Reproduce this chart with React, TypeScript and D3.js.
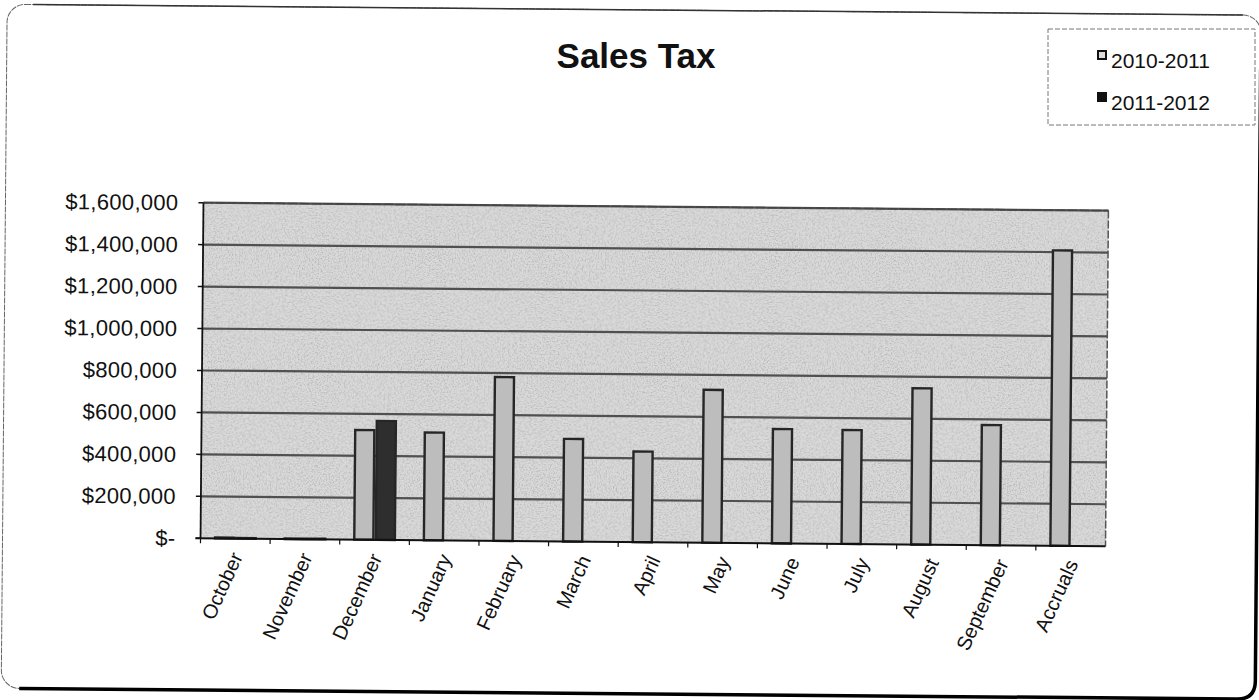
import React from "react";
import * as d3 from "d3";

const categories = ["October","November","December","January","February","March","April","May","June","July","August","September","Accruals"];
const seriesNames = ["2010-2011","2011-2012"];
const values20102011 = [4000, 3000, 523000, 514000, 781000, 489000, 432000, 729000, 545000, 543000, 745000, 573000, 1408000];
const values20112012: (number | null)[] = [3000, 3000, 567000, null, null, null, null, null, null, null, null, null, null];
const yTicks = [0, 200000, 400000, 600000, 800000, 1000000, 1200000, 1400000, 1600000];
const seriesFill = ["#bdbdbd", "#2e2e2e"];

const W = 1259, H = 700;
const plotL = 202, plotR = 1107, plotT = 202.7, plotB = 538.3;
const ROT = 0.5;

const fmt = (v: number) => (v === 0 ? "$-" : "$" + d3.format(",")(v));

export default function App() {
  const x0 = d3.scaleBand<string>().domain(categories).range([plotL, plotR]).padding(0);
  const step = x0.step();
  const groupW = 43;
  const x1 = d3.scaleBand<string>().domain(seriesNames).range([(step - groupW) / 2, (step + groupW) / 2]).padding(0);
  const y = d3.scaleLinear().domain([0, 1600000]).range([plotB, plotT]);
  const data = [values20102011, values20112012];
  const font = "Arial, 'Liberation Sans', Helvetica, sans-serif";

  return (
    <svg width={W} height={H} style={{ display: "block", position: "absolute", left: 0, top: 0, background: "#fff" }}>
      <defs>
        <filter id="noise" x="0" y="0" width="100%" height="100%">
          <feTurbulence type="fractalNoise" baseFrequency="0.7" numOctaves="3" seed="5" result="t" />
          <feColorMatrix type="matrix" values="0 0 0 0 0.3  0 0 0 0 0.3  0 0 0 0 0.3  0 0 0 -2.2 1.25" />
        </filter>
      </defs>

      <g transform={`rotate(${ROT}, ${plotL}, 370)`}>
        {/* page border */}
        <rect x={4} y={6} width={1254} height={684} rx={18} fill="none" stroke="#666" strokeWidth={1} strokeDasharray="6 1" />
        <path d={`M ${4 + 18} 690 L ${1258 - 18} 690 Q 1258 690 1258 ${690 - 18} L 1258 60`} fill="none" stroke="#000" strokeWidth={3.5} />
        <path d={`M 30 6 L 1240 6`} fill="none" stroke="#333" strokeWidth={1.5} />

        {/* plot area */}
        <rect x={plotL} y={plotT} width={plotR - plotL} height={plotB - plotT} fill="#d9d9d9" />
        <rect x={plotL} y={plotT} width={plotR - plotL} height={plotB - plotT} filter="url(#noise)" opacity={0.6} />

        {/* gridlines */}
        {yTicks.filter(t => t > 0).map(t => (
          <line key={"g" + t} x1={plotL} x2={plotR} y1={y(t)} y2={y(t)} stroke="#505050" strokeWidth={2.2} />
        ))}
        <line x1={plotR} x2={plotR} y1={plotT} y2={plotB} stroke="#555" strokeWidth={1.5} strokeDasharray="8 2" />
        <line x1={plotL} x2={plotR} y1={plotT} y2={plotT} stroke="#444" strokeWidth={1.5} strokeDasharray="10 2" />

        {/* bars */}
        {data.map((vals, si) =>
          vals.map((v, ci) =>
            v == null ? null : (
              <rect
                key={si + "-" + ci}
                x={(x0(categories[ci]) as number) + (x1(seriesNames[si]) as number) + 1.2}
                y={y(v)}
                width={x1.bandwidth() - 2.4}
                height={y(0) - y(v)}
                fill={seriesFill[si]}
                stroke="#262626"
                strokeWidth={2.4}
              />
            )
          )
        )}

        {/* axes */}
        <line x1={plotL} x2={plotL} y1={plotT} y2={plotB} stroke="#111" strokeWidth={1.8} />
        <line x1={plotL - 5} x2={plotR} y1={plotB} y2={plotB} stroke="#111" strokeWidth={2} />
        {yTicks.map(t => (
          <line key={"yt" + t} x1={plotL - 5} x2={plotL} y1={y(t)} y2={y(t)} stroke="#111" strokeWidth={1.5} />
        ))}
        {categories.map(c => (
          <line key={"xt" + c} x1={x0(c) as number} x2={x0(c) as number} y1={plotB} y2={plotB + 5} stroke="#111" strokeWidth={1.2} />
        ))}

        {/* y labels */}
        {yTicks.map(t => (
          <text key={"yl" + t} x={177} y={y(t)} dy="0.35em" textAnchor="end" fontFamily={font} fontSize={22} letterSpacing={0.3} fill="#111">
            {fmt(t)}
          </text>
        ))}

        {/* x labels */}
        {categories.map(c => {
          const cx = (x0(c) as number) + step / 2 + 8;
          const cy = 556;
          return (
            <text key={"xl" + c} x={cx} y={cy} transform={`rotate(-66, ${cx}, ${cy})`} textAnchor="end" fontFamily={font} fontSize={20} fill="#111">
              {c}
            </text>
          );
        })}
      </g>

      {/* title */}
      <text x={636} y={68} textAnchor="middle" fontFamily={font} fontWeight="bold" fontSize={35} fill="#111">Sales Tax</text>

      {/* legend */}
      <rect x={1048} y={29} width={207} height={96} fill="#fff" stroke="#777" strokeWidth={1} strokeDasharray="5 2" />
      {seriesNames.map((s, i) => (
        <g key={"lg" + s}>
          <rect x={1098} y={51 + i * 42} width={8} height={8} fill={i === 0 ? "#ddd" : "#111"} stroke="#111" strokeWidth={2} />
          <text x={1111} y={68 + i * 42} fontFamily={font} fontSize={21} fill="#111">{s}</text>
        </g>
      ))}
    </svg>
  );
}
